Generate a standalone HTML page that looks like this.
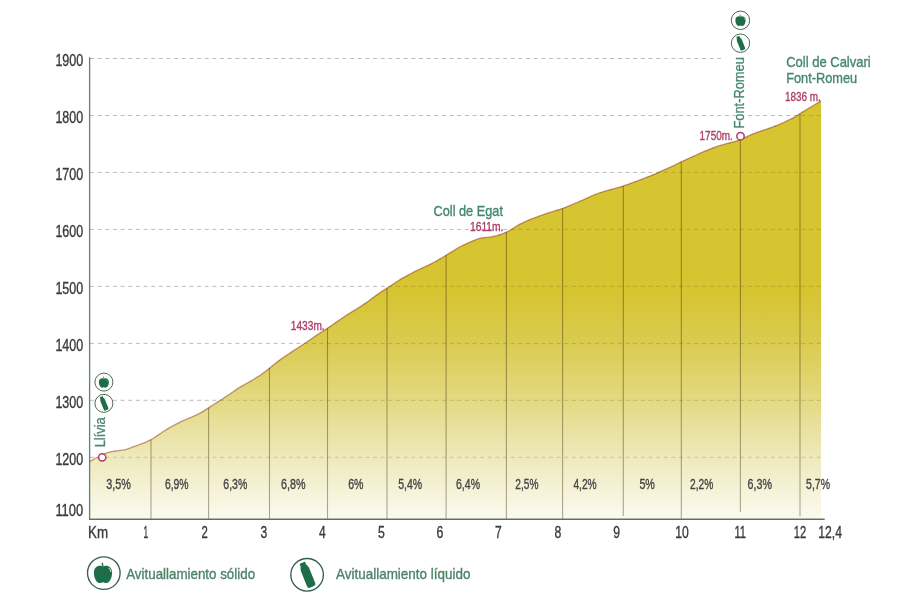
<!DOCTYPE html><html><head><meta charset="utf-8"><style>html,body{margin:0;padding:0;background:#fff;width:900px;height:600px;overflow:hidden}svg{display:block;will-change:transform;filter:blur(0.3px)}</style></head><body><svg width="900" height="600" viewBox="0 0 900 600">
<defs><linearGradient id="g" gradientUnits="userSpaceOnUse" x1="0" y1="290" x2="0" y2="522"><stop offset="0" stop-color="#d6c430"/><stop offset="0.23" stop-color="#dacb50"/><stop offset="0.47" stop-color="#e3d980"/><stop offset="0.72" stop-color="#eee9bc"/><stop offset="1" stop-color="#fcfbf2"/></linearGradient></defs>
<rect width="900" height="600" fill="#fff"/>
<line x1="90" y1="58.5" x2="721" y2="58.5" stroke="#bcbcbc" stroke-width="1" stroke-dasharray="4 3.65"/>
<line x1="90" y1="115.5" x2="821" y2="115.5" stroke="#bcbcbc" stroke-width="1" stroke-dasharray="4 3.65"/>
<line x1="90" y1="172.4" x2="821" y2="172.4" stroke="#bcbcbc" stroke-width="1" stroke-dasharray="4 3.65"/>
<line x1="90" y1="229.4" x2="821" y2="229.4" stroke="#bcbcbc" stroke-width="1" stroke-dasharray="4 3.65"/>
<line x1="90" y1="286.4" x2="821" y2="286.4" stroke="#bcbcbc" stroke-width="1" stroke-dasharray="4 3.65"/>
<line x1="90" y1="343.4" x2="821" y2="343.4" stroke="#bcbcbc" stroke-width="1" stroke-dasharray="4 3.65"/>
<line x1="90" y1="400.3" x2="821" y2="400.3" stroke="#bcbcbc" stroke-width="1" stroke-dasharray="4 3.65"/>
<line x1="90" y1="457.3" x2="821" y2="457.3" stroke="#bcbcbc" stroke-width="1" stroke-dasharray="4 3.65"/>
<path d="M89.6,461.8 C90.10,461.48 91.60,460.46 92.6,459.87 C93.60,459.28 94.60,458.73 95.6,458.24 C96.60,457.75 97.60,457.36 98.6,456.91 C99.60,456.46 100.60,456.02 101.6,455.53 C102.60,455.04 103.60,454.45 104.6,453.97 C105.60,453.49 106.60,453.02 107.6,452.67 C108.60,452.32 109.60,452.08 110.6,451.85 C111.60,451.62 112.60,451.47 113.6,451.31 C114.60,451.15 115.60,451.03 116.6,450.9 C117.60,450.77 118.60,450.66 119.6,450.54 C120.60,450.42 121.60,450.35 122.6,450.19 C123.60,450.03 124.60,449.85 125.6,449.59 C126.60,449.32 127.60,448.96 128.6,448.6 C129.60,448.25 130.60,447.83 131.6,447.46 C132.60,447.08 133.60,446.72 134.6,446.35 C135.60,445.99 136.60,445.63 137.6,445.27 C138.60,444.91 139.60,444.55 140.6,444.19 C141.60,443.83 142.60,443.48 143.6,443.1 C144.60,442.72 145.60,442.34 146.6,441.9 C147.60,441.46 148.60,440.96 149.6,440.44 C150.60,439.92 151.60,439.34 152.6,438.75 C153.60,438.16 154.60,437.53 155.6,436.88 C156.60,436.23 157.60,435.55 158.6,434.86 C159.60,434.17 160.60,433.42 161.6,432.73 C162.60,432.04 163.60,431.35 164.6,430.71 C165.60,430.07 166.60,429.49 167.6,428.9 C168.60,428.31 169.60,427.75 170.6,427.19 C171.60,426.63 172.60,426.07 173.6,425.52 C174.60,424.97 175.60,424.41 176.6,423.88 C177.60,423.35 178.60,422.82 179.6,422.33 C180.60,421.84 181.60,421.38 182.6,420.93 C183.60,420.48 184.60,420.07 185.6,419.65 C186.60,419.22 187.60,418.80 188.6,418.38 C189.60,417.96 190.60,417.54 191.6,417.11 C192.60,416.68 193.60,416.26 194.6,415.82 C195.60,415.38 196.60,414.96 197.6,414.48 C198.60,414.00 199.60,413.49 200.6,412.92 C201.60,412.35 202.60,411.71 203.6,411.07 C204.60,410.43 205.60,409.74 206.6,409.08 C207.60,408.42 208.60,407.77 209.6,407.12 C210.60,406.47 211.60,405.84 212.6,405.2 C213.60,404.56 214.60,403.93 215.6,403.29 C216.60,402.65 217.60,402.02 218.6,401.38 C219.60,400.74 220.60,400.09 221.6,399.45 C222.60,398.81 223.60,398.16 224.6,397.51 C225.60,396.86 226.60,396.21 227.6,395.55 C228.60,394.89 229.60,394.22 230.6,393.54 C231.60,392.86 232.60,392.17 233.6,391.48 C234.60,390.79 235.60,390.07 236.6,389.39 C237.60,388.71 238.60,388.03 239.6,387.4 C240.60,386.77 241.60,386.18 242.6,385.6 C243.60,385.02 244.60,384.48 245.6,383.92 C246.60,383.36 247.60,382.82 248.6,382.25 C249.60,381.68 250.60,381.10 251.6,380.52 C252.60,379.94 253.60,379.34 254.6,378.74 C255.60,378.14 256.60,377.54 257.6,376.91 C258.60,376.28 259.60,375.63 260.6,374.94 C261.60,374.25 262.60,373.52 263.6,372.78 C264.60,372.04 265.60,371.28 266.6,370.51 C267.60,369.74 268.60,368.94 269.6,368.13 C270.60,367.31 271.60,366.45 272.6,365.62 C273.60,364.79 274.60,363.95 275.6,363.16 C276.60,362.37 277.60,361.61 278.6,360.87 C279.60,360.13 280.60,359.44 281.6,358.74 C282.60,358.04 283.60,357.35 284.6,356.67 C285.60,355.99 286.60,355.31 287.6,354.64 C288.60,353.97 289.60,353.29 290.6,352.63 C291.60,351.97 292.60,351.31 293.6,350.66 C294.60,350.01 295.60,349.36 296.6,348.71 C297.60,348.06 298.60,347.40 299.6,346.74 C300.60,346.08 301.60,345.42 302.6,344.75 C303.60,344.08 304.60,343.42 305.6,342.75 C306.60,342.08 307.60,341.40 308.6,340.73 C309.60,340.06 310.60,339.39 311.6,338.71 C312.60,338.03 313.60,337.35 314.6,336.67 C315.60,335.99 316.60,335.31 317.6,334.65 C318.60,333.98 319.60,333.32 320.6,332.68 C321.60,332.04 322.60,331.41 323.6,330.78 C324.60,330.14 325.60,329.52 326.6,328.87 C327.60,328.22 328.60,327.54 329.6,326.85 C330.60,326.16 331.60,325.44 332.6,324.74 C333.60,324.04 334.60,323.32 335.6,322.62 C336.60,321.92 337.60,321.21 338.6,320.52 C339.60,319.83 340.60,319.15 341.6,318.48 C342.60,317.81 343.60,317.16 344.6,316.51 C345.60,315.86 346.60,315.21 347.6,314.57 C348.60,313.93 349.60,313.30 350.6,312.68 C351.60,312.06 352.60,311.45 353.6,310.84 C354.60,310.23 355.60,309.64 356.6,309.03 C357.60,308.42 358.60,307.81 359.6,307.16 C360.60,306.52 361.60,305.84 362.6,305.16 C363.60,304.48 364.60,303.78 365.6,303.08 C366.60,302.38 367.60,301.68 368.6,300.96 C369.60,300.24 370.60,299.51 371.6,298.78 C372.60,298.04 373.60,297.29 374.6,296.55 C375.60,295.81 376.60,295.05 377.6,294.33 C378.60,293.61 379.60,292.90 380.6,292.23 C381.60,291.56 382.60,290.93 383.6,290.29 C384.60,289.65 385.60,289.03 386.6,288.39 C387.60,287.75 388.60,287.11 389.6,286.45 C390.60,285.79 391.60,285.13 392.6,284.46 C393.60,283.79 394.60,283.11 395.6,282.45 C396.60,281.79 397.60,281.12 398.6,280.49 C399.60,279.86 400.60,279.26 401.6,278.67 C402.60,278.08 403.60,277.53 404.6,276.97 C405.60,276.41 406.60,275.87 407.6,275.33 C408.60,274.79 409.60,274.26 410.6,273.74 C411.60,273.22 412.60,272.70 413.6,272.2 C414.60,271.69 415.60,271.20 416.6,270.71 C417.60,270.22 418.60,269.72 419.6,269.24 C420.60,268.76 421.60,268.30 422.6,267.84 C423.60,267.38 424.60,266.94 425.6,266.48 C426.60,266.02 427.60,265.56 428.6,265.08 C429.60,264.60 430.60,264.10 431.6,263.58 C432.60,263.06 433.60,262.52 434.6,261.97 C435.60,261.42 436.60,260.87 437.6,260.3 C438.60,259.74 439.60,259.17 440.6,258.58 C441.60,257.99 442.60,257.38 443.6,256.77 C444.60,256.16 445.60,255.54 446.6,254.93 C447.60,254.32 448.60,253.70 449.6,253.09 C450.60,252.48 451.60,251.86 452.6,251.25 C453.60,250.64 454.60,250.01 455.6,249.41 C456.60,248.81 457.60,248.20 458.6,247.63 C459.60,247.06 460.60,246.52 461.6,246.01 C462.60,245.50 463.60,245.02 464.6,244.54 C465.60,244.06 466.60,243.59 467.6,243.14 C468.60,242.69 469.60,242.24 470.6,241.81 C471.60,241.38 472.60,240.97 473.6,240.57 C474.60,240.17 475.60,239.75 476.6,239.39 C477.60,239.03 478.60,238.66 479.6,238.4 C480.60,238.14 481.60,237.96 482.6,237.8 C483.60,237.64 484.60,237.56 485.6,237.46 C486.60,237.36 487.60,237.30 488.6,237.2 C489.60,237.10 490.60,237.01 491.6,236.85 C492.60,236.69 493.60,236.48 494.6,236.24 C495.60,236.00 496.60,235.72 497.6,235.43 C498.60,235.14 499.60,234.83 500.6,234.49 C501.60,234.15 502.60,233.78 503.6,233.38 C504.60,232.98 505.60,232.56 506.6,232.09 C507.60,231.62 508.60,231.10 509.6,230.53 C510.60,229.96 511.60,229.29 512.6,228.66 C513.60,228.03 514.60,227.34 515.6,226.72 C516.60,226.10 517.60,225.48 518.6,224.92 C519.60,224.36 520.60,223.84 521.6,223.34 C522.60,222.84 523.60,222.40 524.6,221.94 C525.60,221.48 526.60,221.03 527.6,220.6 C528.60,220.17 529.60,219.74 530.6,219.34 C531.60,218.94 532.60,218.57 533.6,218.19 C534.60,217.81 535.60,217.45 536.6,217.08 C537.60,216.71 538.60,216.34 539.6,215.98 C540.60,215.61 541.60,215.25 542.6,214.89 C543.60,214.53 544.60,214.18 545.6,213.84 C546.60,213.50 547.60,213.18 548.6,212.85 C549.60,212.52 550.60,212.21 551.6,211.89 C552.60,211.57 553.60,211.25 554.6,210.94 C555.60,210.62 556.60,210.31 557.6,210.0 C558.60,209.69 559.60,209.38 560.6,209.05 C561.60,208.72 562.60,208.38 563.6,208.01 C564.60,207.64 565.60,207.25 566.6,206.86 C567.60,206.47 568.60,206.06 569.6,205.66 C570.60,205.26 571.60,204.86 572.6,204.45 C573.60,204.04 574.60,203.62 575.6,203.19 C576.60,202.76 577.60,202.32 578.6,201.88 C579.60,201.44 580.60,200.98 581.6,200.53 C582.60,200.08 583.60,199.63 584.6,199.18 C585.60,198.73 586.60,198.28 587.6,197.83 C588.60,197.38 589.60,196.92 590.6,196.48 C591.60,196.04 592.60,195.60 593.6,195.18 C594.60,194.76 595.60,194.36 596.6,193.98 C597.60,193.60 598.60,193.24 599.6,192.89 C600.60,192.54 601.60,192.19 602.6,191.86 C603.60,191.53 604.60,191.21 605.6,190.92 C606.60,190.63 607.60,190.37 608.6,190.11 C609.60,189.85 610.60,189.61 611.6,189.35 C612.60,189.09 613.60,188.83 614.6,188.56 C615.60,188.29 616.60,188.00 617.6,187.71 C618.60,187.42 619.60,187.11 620.6,186.8 C621.60,186.49 622.60,186.17 623.6,185.84 C624.60,185.51 625.60,185.16 626.6,184.81 C627.60,184.46 628.60,184.10 629.6,183.74 C630.60,183.38 631.60,183.02 632.6,182.66 C633.60,182.30 634.60,181.93 635.6,181.56 C636.60,181.19 637.60,180.81 638.6,180.43 C639.60,180.05 640.60,179.67 641.6,179.29 C642.60,178.91 643.60,178.53 644.6,178.14 C645.60,177.75 646.60,177.36 647.6,176.96 C648.60,176.56 649.60,176.16 650.6,175.76 C651.60,175.36 652.60,174.96 653.6,174.54 C654.60,174.12 655.60,173.69 656.6,173.26 C657.60,172.82 658.60,172.38 659.6,171.93 C660.60,171.48 661.60,171.03 662.6,170.58 C663.60,170.13 664.60,169.68 665.6,169.23 C666.60,168.78 667.60,168.33 668.6,167.88 C669.60,167.43 670.60,166.98 671.6,166.52 C672.60,166.06 673.60,165.61 674.6,165.14 C675.60,164.67 676.60,164.18 677.6,163.69 C678.60,163.20 679.60,162.71 680.6,162.23 C681.60,161.75 682.60,161.27 683.6,160.8 C684.60,160.33 685.60,159.87 686.6,159.4 C687.60,158.94 688.60,158.47 689.6,158.01 C690.60,157.55 691.60,157.08 692.6,156.62 C693.60,156.16 694.60,155.70 695.6,155.24 C696.60,154.78 697.60,154.33 698.6,153.88 C699.60,153.43 700.60,152.98 701.6,152.54 C702.60,152.10 703.60,151.66 704.6,151.24 C705.60,150.82 706.60,150.42 707.6,150.03 C708.60,149.64 709.60,149.26 710.6,148.88 C711.60,148.50 712.60,148.12 713.6,147.76 C714.60,147.40 715.60,147.05 716.6,146.71 C717.60,146.37 718.60,146.05 719.6,145.73 C720.60,145.41 721.60,145.09 722.6,144.78 C723.60,144.47 724.60,144.18 725.6,143.9 C726.60,143.62 727.60,143.37 728.6,143.11 C729.60,142.85 730.60,142.60 731.6,142.34 C732.60,142.08 733.60,141.83 734.6,141.54 C735.60,141.25 736.60,140.96 737.6,140.62 C738.60,140.28 739.60,139.92 740.6,139.51 C741.60,139.10 742.60,138.63 743.6,138.18 C744.60,137.73 745.60,137.26 746.6,136.8 C747.60,136.34 748.60,135.88 749.6,135.43 C750.60,134.98 751.60,134.53 752.6,134.11 C753.60,133.69 754.60,133.27 755.6,132.89 C756.60,132.51 757.60,132.16 758.6,131.82 C759.60,131.47 760.60,131.15 761.6,130.82 C762.60,130.49 763.60,130.16 764.6,129.82 C765.60,129.48 766.60,129.14 767.6,128.79 C768.60,128.44 769.60,128.09 770.6,127.74 C771.60,127.38 772.60,127.03 773.6,126.66 C774.60,126.29 775.60,125.90 776.6,125.5 C777.60,125.10 778.60,124.68 779.6,124.26 C780.60,123.84 781.60,123.43 782.6,122.99 C783.60,122.55 784.60,122.11 785.6,121.64 C786.60,121.17 787.60,120.68 788.6,120.19 C789.60,119.70 790.60,119.20 791.6,118.68 C792.60,118.16 793.60,117.64 794.6,117.06 C795.60,116.48 796.60,115.85 797.6,115.22 C798.60,114.59 799.60,113.92 800.6,113.27 C801.60,112.62 802.60,111.97 803.6,111.34 C804.60,110.71 805.60,110.10 806.6,109.5 C807.60,108.90 808.60,108.32 809.6,107.73 C810.60,107.14 811.60,106.57 812.6,105.98 C813.60,105.39 814.60,104.79 815.6,104.18 C816.60,103.57 817.70,102.88 818.6,102.32 C819.50,101.76 820.60,101.05 821,100.8 L821,519.5 L89.6,519.5 Z" fill="url(#g)"/>
<clipPath id="cf"><path d="M89.6,461.8 C90.10,461.48 91.60,460.46 92.6,459.87 C93.60,459.28 94.60,458.73 95.6,458.24 C96.60,457.75 97.60,457.36 98.6,456.91 C99.60,456.46 100.60,456.02 101.6,455.53 C102.60,455.04 103.60,454.45 104.6,453.97 C105.60,453.49 106.60,453.02 107.6,452.67 C108.60,452.32 109.60,452.08 110.6,451.85 C111.60,451.62 112.60,451.47 113.6,451.31 C114.60,451.15 115.60,451.03 116.6,450.9 C117.60,450.77 118.60,450.66 119.6,450.54 C120.60,450.42 121.60,450.35 122.6,450.19 C123.60,450.03 124.60,449.85 125.6,449.59 C126.60,449.32 127.60,448.96 128.6,448.6 C129.60,448.25 130.60,447.83 131.6,447.46 C132.60,447.08 133.60,446.72 134.6,446.35 C135.60,445.99 136.60,445.63 137.6,445.27 C138.60,444.91 139.60,444.55 140.6,444.19 C141.60,443.83 142.60,443.48 143.6,443.1 C144.60,442.72 145.60,442.34 146.6,441.9 C147.60,441.46 148.60,440.96 149.6,440.44 C150.60,439.92 151.60,439.34 152.6,438.75 C153.60,438.16 154.60,437.53 155.6,436.88 C156.60,436.23 157.60,435.55 158.6,434.86 C159.60,434.17 160.60,433.42 161.6,432.73 C162.60,432.04 163.60,431.35 164.6,430.71 C165.60,430.07 166.60,429.49 167.6,428.9 C168.60,428.31 169.60,427.75 170.6,427.19 C171.60,426.63 172.60,426.07 173.6,425.52 C174.60,424.97 175.60,424.41 176.6,423.88 C177.60,423.35 178.60,422.82 179.6,422.33 C180.60,421.84 181.60,421.38 182.6,420.93 C183.60,420.48 184.60,420.07 185.6,419.65 C186.60,419.22 187.60,418.80 188.6,418.38 C189.60,417.96 190.60,417.54 191.6,417.11 C192.60,416.68 193.60,416.26 194.6,415.82 C195.60,415.38 196.60,414.96 197.6,414.48 C198.60,414.00 199.60,413.49 200.6,412.92 C201.60,412.35 202.60,411.71 203.6,411.07 C204.60,410.43 205.60,409.74 206.6,409.08 C207.60,408.42 208.60,407.77 209.6,407.12 C210.60,406.47 211.60,405.84 212.6,405.2 C213.60,404.56 214.60,403.93 215.6,403.29 C216.60,402.65 217.60,402.02 218.6,401.38 C219.60,400.74 220.60,400.09 221.6,399.45 C222.60,398.81 223.60,398.16 224.6,397.51 C225.60,396.86 226.60,396.21 227.6,395.55 C228.60,394.89 229.60,394.22 230.6,393.54 C231.60,392.86 232.60,392.17 233.6,391.48 C234.60,390.79 235.60,390.07 236.6,389.39 C237.60,388.71 238.60,388.03 239.6,387.4 C240.60,386.77 241.60,386.18 242.6,385.6 C243.60,385.02 244.60,384.48 245.6,383.92 C246.60,383.36 247.60,382.82 248.6,382.25 C249.60,381.68 250.60,381.10 251.6,380.52 C252.60,379.94 253.60,379.34 254.6,378.74 C255.60,378.14 256.60,377.54 257.6,376.91 C258.60,376.28 259.60,375.63 260.6,374.94 C261.60,374.25 262.60,373.52 263.6,372.78 C264.60,372.04 265.60,371.28 266.6,370.51 C267.60,369.74 268.60,368.94 269.6,368.13 C270.60,367.31 271.60,366.45 272.6,365.62 C273.60,364.79 274.60,363.95 275.6,363.16 C276.60,362.37 277.60,361.61 278.6,360.87 C279.60,360.13 280.60,359.44 281.6,358.74 C282.60,358.04 283.60,357.35 284.6,356.67 C285.60,355.99 286.60,355.31 287.6,354.64 C288.60,353.97 289.60,353.29 290.6,352.63 C291.60,351.97 292.60,351.31 293.6,350.66 C294.60,350.01 295.60,349.36 296.6,348.71 C297.60,348.06 298.60,347.40 299.6,346.74 C300.60,346.08 301.60,345.42 302.6,344.75 C303.60,344.08 304.60,343.42 305.6,342.75 C306.60,342.08 307.60,341.40 308.6,340.73 C309.60,340.06 310.60,339.39 311.6,338.71 C312.60,338.03 313.60,337.35 314.6,336.67 C315.60,335.99 316.60,335.31 317.6,334.65 C318.60,333.98 319.60,333.32 320.6,332.68 C321.60,332.04 322.60,331.41 323.6,330.78 C324.60,330.14 325.60,329.52 326.6,328.87 C327.60,328.22 328.60,327.54 329.6,326.85 C330.60,326.16 331.60,325.44 332.6,324.74 C333.60,324.04 334.60,323.32 335.6,322.62 C336.60,321.92 337.60,321.21 338.6,320.52 C339.60,319.83 340.60,319.15 341.6,318.48 C342.60,317.81 343.60,317.16 344.6,316.51 C345.60,315.86 346.60,315.21 347.6,314.57 C348.60,313.93 349.60,313.30 350.6,312.68 C351.60,312.06 352.60,311.45 353.6,310.84 C354.60,310.23 355.60,309.64 356.6,309.03 C357.60,308.42 358.60,307.81 359.6,307.16 C360.60,306.52 361.60,305.84 362.6,305.16 C363.60,304.48 364.60,303.78 365.6,303.08 C366.60,302.38 367.60,301.68 368.6,300.96 C369.60,300.24 370.60,299.51 371.6,298.78 C372.60,298.04 373.60,297.29 374.6,296.55 C375.60,295.81 376.60,295.05 377.6,294.33 C378.60,293.61 379.60,292.90 380.6,292.23 C381.60,291.56 382.60,290.93 383.6,290.29 C384.60,289.65 385.60,289.03 386.6,288.39 C387.60,287.75 388.60,287.11 389.6,286.45 C390.60,285.79 391.60,285.13 392.6,284.46 C393.60,283.79 394.60,283.11 395.6,282.45 C396.60,281.79 397.60,281.12 398.6,280.49 C399.60,279.86 400.60,279.26 401.6,278.67 C402.60,278.08 403.60,277.53 404.6,276.97 C405.60,276.41 406.60,275.87 407.6,275.33 C408.60,274.79 409.60,274.26 410.6,273.74 C411.60,273.22 412.60,272.70 413.6,272.2 C414.60,271.69 415.60,271.20 416.6,270.71 C417.60,270.22 418.60,269.72 419.6,269.24 C420.60,268.76 421.60,268.30 422.6,267.84 C423.60,267.38 424.60,266.94 425.6,266.48 C426.60,266.02 427.60,265.56 428.6,265.08 C429.60,264.60 430.60,264.10 431.6,263.58 C432.60,263.06 433.60,262.52 434.6,261.97 C435.60,261.42 436.60,260.87 437.6,260.3 C438.60,259.74 439.60,259.17 440.6,258.58 C441.60,257.99 442.60,257.38 443.6,256.77 C444.60,256.16 445.60,255.54 446.6,254.93 C447.60,254.32 448.60,253.70 449.6,253.09 C450.60,252.48 451.60,251.86 452.6,251.25 C453.60,250.64 454.60,250.01 455.6,249.41 C456.60,248.81 457.60,248.20 458.6,247.63 C459.60,247.06 460.60,246.52 461.6,246.01 C462.60,245.50 463.60,245.02 464.6,244.54 C465.60,244.06 466.60,243.59 467.6,243.14 C468.60,242.69 469.60,242.24 470.6,241.81 C471.60,241.38 472.60,240.97 473.6,240.57 C474.60,240.17 475.60,239.75 476.6,239.39 C477.60,239.03 478.60,238.66 479.6,238.4 C480.60,238.14 481.60,237.96 482.6,237.8 C483.60,237.64 484.60,237.56 485.6,237.46 C486.60,237.36 487.60,237.30 488.6,237.2 C489.60,237.10 490.60,237.01 491.6,236.85 C492.60,236.69 493.60,236.48 494.6,236.24 C495.60,236.00 496.60,235.72 497.6,235.43 C498.60,235.14 499.60,234.83 500.6,234.49 C501.60,234.15 502.60,233.78 503.6,233.38 C504.60,232.98 505.60,232.56 506.6,232.09 C507.60,231.62 508.60,231.10 509.6,230.53 C510.60,229.96 511.60,229.29 512.6,228.66 C513.60,228.03 514.60,227.34 515.6,226.72 C516.60,226.10 517.60,225.48 518.6,224.92 C519.60,224.36 520.60,223.84 521.6,223.34 C522.60,222.84 523.60,222.40 524.6,221.94 C525.60,221.48 526.60,221.03 527.6,220.6 C528.60,220.17 529.60,219.74 530.6,219.34 C531.60,218.94 532.60,218.57 533.6,218.19 C534.60,217.81 535.60,217.45 536.6,217.08 C537.60,216.71 538.60,216.34 539.6,215.98 C540.60,215.61 541.60,215.25 542.6,214.89 C543.60,214.53 544.60,214.18 545.6,213.84 C546.60,213.50 547.60,213.18 548.6,212.85 C549.60,212.52 550.60,212.21 551.6,211.89 C552.60,211.57 553.60,211.25 554.6,210.94 C555.60,210.62 556.60,210.31 557.6,210.0 C558.60,209.69 559.60,209.38 560.6,209.05 C561.60,208.72 562.60,208.38 563.6,208.01 C564.60,207.64 565.60,207.25 566.6,206.86 C567.60,206.47 568.60,206.06 569.6,205.66 C570.60,205.26 571.60,204.86 572.6,204.45 C573.60,204.04 574.60,203.62 575.6,203.19 C576.60,202.76 577.60,202.32 578.6,201.88 C579.60,201.44 580.60,200.98 581.6,200.53 C582.60,200.08 583.60,199.63 584.6,199.18 C585.60,198.73 586.60,198.28 587.6,197.83 C588.60,197.38 589.60,196.92 590.6,196.48 C591.60,196.04 592.60,195.60 593.6,195.18 C594.60,194.76 595.60,194.36 596.6,193.98 C597.60,193.60 598.60,193.24 599.6,192.89 C600.60,192.54 601.60,192.19 602.6,191.86 C603.60,191.53 604.60,191.21 605.6,190.92 C606.60,190.63 607.60,190.37 608.6,190.11 C609.60,189.85 610.60,189.61 611.6,189.35 C612.60,189.09 613.60,188.83 614.6,188.56 C615.60,188.29 616.60,188.00 617.6,187.71 C618.60,187.42 619.60,187.11 620.6,186.8 C621.60,186.49 622.60,186.17 623.6,185.84 C624.60,185.51 625.60,185.16 626.6,184.81 C627.60,184.46 628.60,184.10 629.6,183.74 C630.60,183.38 631.60,183.02 632.6,182.66 C633.60,182.30 634.60,181.93 635.6,181.56 C636.60,181.19 637.60,180.81 638.6,180.43 C639.60,180.05 640.60,179.67 641.6,179.29 C642.60,178.91 643.60,178.53 644.6,178.14 C645.60,177.75 646.60,177.36 647.6,176.96 C648.60,176.56 649.60,176.16 650.6,175.76 C651.60,175.36 652.60,174.96 653.6,174.54 C654.60,174.12 655.60,173.69 656.6,173.26 C657.60,172.82 658.60,172.38 659.6,171.93 C660.60,171.48 661.60,171.03 662.6,170.58 C663.60,170.13 664.60,169.68 665.6,169.23 C666.60,168.78 667.60,168.33 668.6,167.88 C669.60,167.43 670.60,166.98 671.6,166.52 C672.60,166.06 673.60,165.61 674.6,165.14 C675.60,164.67 676.60,164.18 677.6,163.69 C678.60,163.20 679.60,162.71 680.6,162.23 C681.60,161.75 682.60,161.27 683.6,160.8 C684.60,160.33 685.60,159.87 686.6,159.4 C687.60,158.94 688.60,158.47 689.6,158.01 C690.60,157.55 691.60,157.08 692.6,156.62 C693.60,156.16 694.60,155.70 695.6,155.24 C696.60,154.78 697.60,154.33 698.6,153.88 C699.60,153.43 700.60,152.98 701.6,152.54 C702.60,152.10 703.60,151.66 704.6,151.24 C705.60,150.82 706.60,150.42 707.6,150.03 C708.60,149.64 709.60,149.26 710.6,148.88 C711.60,148.50 712.60,148.12 713.6,147.76 C714.60,147.40 715.60,147.05 716.6,146.71 C717.60,146.37 718.60,146.05 719.6,145.73 C720.60,145.41 721.60,145.09 722.6,144.78 C723.60,144.47 724.60,144.18 725.6,143.9 C726.60,143.62 727.60,143.37 728.6,143.11 C729.60,142.85 730.60,142.60 731.6,142.34 C732.60,142.08 733.60,141.83 734.6,141.54 C735.60,141.25 736.60,140.96 737.6,140.62 C738.60,140.28 739.60,139.92 740.6,139.51 C741.60,139.10 742.60,138.63 743.6,138.18 C744.60,137.73 745.60,137.26 746.6,136.8 C747.60,136.34 748.60,135.88 749.6,135.43 C750.60,134.98 751.60,134.53 752.6,134.11 C753.60,133.69 754.60,133.27 755.6,132.89 C756.60,132.51 757.60,132.16 758.6,131.82 C759.60,131.47 760.60,131.15 761.6,130.82 C762.60,130.49 763.60,130.16 764.6,129.82 C765.60,129.48 766.60,129.14 767.6,128.79 C768.60,128.44 769.60,128.09 770.6,127.74 C771.60,127.38 772.60,127.03 773.6,126.66 C774.60,126.29 775.60,125.90 776.6,125.5 C777.60,125.10 778.60,124.68 779.6,124.26 C780.60,123.84 781.60,123.43 782.6,122.99 C783.60,122.55 784.60,122.11 785.6,121.64 C786.60,121.17 787.60,120.68 788.6,120.19 C789.60,119.70 790.60,119.20 791.6,118.68 C792.60,118.16 793.60,117.64 794.6,117.06 C795.60,116.48 796.60,115.85 797.6,115.22 C798.60,114.59 799.60,113.92 800.6,113.27 C801.60,112.62 802.60,111.97 803.6,111.34 C804.60,110.71 805.60,110.10 806.6,109.5 C807.60,108.90 808.60,108.32 809.6,107.73 C810.60,107.14 811.60,106.57 812.6,105.98 C813.60,105.39 814.60,104.79 815.6,104.18 C816.60,103.57 817.70,102.88 818.6,102.32 C819.50,101.76 820.60,101.05 821,100.8 L821,519.5 L89.6,519.5 Z"/></clipPath>
<g clip-path="url(#cf)" style="mix-blend-mode:multiply">
<line x1="90" y1="58.5" x2="821" y2="58.5" stroke="#dcd8cc" stroke-width="1" stroke-dasharray="4 3.65"/>
<line x1="90" y1="115.5" x2="821" y2="115.5" stroke="#dcd8cc" stroke-width="1" stroke-dasharray="4 3.65"/>
<line x1="90" y1="172.4" x2="821" y2="172.4" stroke="#dcd8cc" stroke-width="1" stroke-dasharray="4 3.65"/>
<line x1="90" y1="229.4" x2="821" y2="229.4" stroke="#dcd8cc" stroke-width="1" stroke-dasharray="4 3.65"/>
<line x1="90" y1="286.4" x2="821" y2="286.4" stroke="#dcd8cc" stroke-width="1" stroke-dasharray="4 3.65"/>
<line x1="90" y1="343.4" x2="821" y2="343.4" stroke="#dcd8cc" stroke-width="1" stroke-dasharray="4 3.65"/>
<line x1="90" y1="400.3" x2="821" y2="400.3" stroke="#dcd8cc" stroke-width="1" stroke-dasharray="4 3.65"/>
<line x1="90" y1="457.3" x2="821" y2="457.3" stroke="#dcd8cc" stroke-width="1" stroke-dasharray="4 3.65"/>
</g>
<line x1="151" y1="439.7" x2="151" y2="519" stroke="#b0ab9c" stroke-width="1.1" style="mix-blend-mode:multiply"/>
<line x1="208.6" y1="407.8" x2="208.6" y2="519" stroke="#b0ab9c" stroke-width="1.1" style="mix-blend-mode:multiply"/>
<line x1="269.5" y1="368.2" x2="269.5" y2="519" stroke="#b0ab9c" stroke-width="1.1" style="mix-blend-mode:multiply"/>
<line x1="327.5" y1="328.3" x2="327.5" y2="519" stroke="#b0ab9c" stroke-width="1.1" style="mix-blend-mode:multiply"/>
<line x1="387" y1="288.1" x2="387" y2="519" stroke="#b0ab9c" stroke-width="1.1" style="mix-blend-mode:multiply"/>
<line x1="446.1" y1="255.2" x2="446.1" y2="519" stroke="#b0ab9c" stroke-width="1.1" style="mix-blend-mode:multiply"/>
<line x1="506.4" y1="232.2" x2="506.4" y2="519" stroke="#b0ab9c" stroke-width="1.1" style="mix-blend-mode:multiply"/>
<line x1="562.6" y1="208.4" x2="562.6" y2="519" stroke="#b0ab9c" stroke-width="1.1" style="mix-blend-mode:multiply"/>
<line x1="623.3" y1="185.9" x2="623.3" y2="516" stroke="#b0ab9c" stroke-width="1.1" style="mix-blend-mode:multiply"/>
<line x1="681.3" y1="161.9" x2="681.3" y2="519" stroke="#b0ab9c" stroke-width="1.1" style="mix-blend-mode:multiply"/>
<line x1="740.4" y1="139.6" x2="740.4" y2="512" stroke="#b0ab9c" stroke-width="1.1" style="mix-blend-mode:multiply"/>
<line x1="800" y1="113.7" x2="800" y2="516.5" stroke="#b0ab9c" stroke-width="1.1" style="mix-blend-mode:multiply"/>
<path d="M89.6,461.8 C90.10,461.48 91.60,460.46 92.6,459.87 C93.60,459.28 94.60,458.73 95.6,458.24 C96.60,457.75 97.60,457.36 98.6,456.91 C99.60,456.46 100.60,456.02 101.6,455.53 C102.60,455.04 103.60,454.45 104.6,453.97 C105.60,453.49 106.60,453.02 107.6,452.67 C108.60,452.32 109.60,452.08 110.6,451.85 C111.60,451.62 112.60,451.47 113.6,451.31 C114.60,451.15 115.60,451.03 116.6,450.9 C117.60,450.77 118.60,450.66 119.6,450.54 C120.60,450.42 121.60,450.35 122.6,450.19 C123.60,450.03 124.60,449.85 125.6,449.59 C126.60,449.32 127.60,448.96 128.6,448.6 C129.60,448.25 130.60,447.83 131.6,447.46 C132.60,447.08 133.60,446.72 134.6,446.35 C135.60,445.99 136.60,445.63 137.6,445.27 C138.60,444.91 139.60,444.55 140.6,444.19 C141.60,443.83 142.60,443.48 143.6,443.1 C144.60,442.72 145.60,442.34 146.6,441.9 C147.60,441.46 148.60,440.96 149.6,440.44 C150.60,439.92 151.60,439.34 152.6,438.75 C153.60,438.16 154.60,437.53 155.6,436.88 C156.60,436.23 157.60,435.55 158.6,434.86 C159.60,434.17 160.60,433.42 161.6,432.73 C162.60,432.04 163.60,431.35 164.6,430.71 C165.60,430.07 166.60,429.49 167.6,428.9 C168.60,428.31 169.60,427.75 170.6,427.19 C171.60,426.63 172.60,426.07 173.6,425.52 C174.60,424.97 175.60,424.41 176.6,423.88 C177.60,423.35 178.60,422.82 179.6,422.33 C180.60,421.84 181.60,421.38 182.6,420.93 C183.60,420.48 184.60,420.07 185.6,419.65 C186.60,419.22 187.60,418.80 188.6,418.38 C189.60,417.96 190.60,417.54 191.6,417.11 C192.60,416.68 193.60,416.26 194.6,415.82 C195.60,415.38 196.60,414.96 197.6,414.48 C198.60,414.00 199.60,413.49 200.6,412.92 C201.60,412.35 202.60,411.71 203.6,411.07 C204.60,410.43 205.60,409.74 206.6,409.08 C207.60,408.42 208.60,407.77 209.6,407.12 C210.60,406.47 211.60,405.84 212.6,405.2 C213.60,404.56 214.60,403.93 215.6,403.29 C216.60,402.65 217.60,402.02 218.6,401.38 C219.60,400.74 220.60,400.09 221.6,399.45 C222.60,398.81 223.60,398.16 224.6,397.51 C225.60,396.86 226.60,396.21 227.6,395.55 C228.60,394.89 229.60,394.22 230.6,393.54 C231.60,392.86 232.60,392.17 233.6,391.48 C234.60,390.79 235.60,390.07 236.6,389.39 C237.60,388.71 238.60,388.03 239.6,387.4 C240.60,386.77 241.60,386.18 242.6,385.6 C243.60,385.02 244.60,384.48 245.6,383.92 C246.60,383.36 247.60,382.82 248.6,382.25 C249.60,381.68 250.60,381.10 251.6,380.52 C252.60,379.94 253.60,379.34 254.6,378.74 C255.60,378.14 256.60,377.54 257.6,376.91 C258.60,376.28 259.60,375.63 260.6,374.94 C261.60,374.25 262.60,373.52 263.6,372.78 C264.60,372.04 265.60,371.28 266.6,370.51 C267.60,369.74 268.60,368.94 269.6,368.13 C270.60,367.31 271.60,366.45 272.6,365.62 C273.60,364.79 274.60,363.95 275.6,363.16 C276.60,362.37 277.60,361.61 278.6,360.87 C279.60,360.13 280.60,359.44 281.6,358.74 C282.60,358.04 283.60,357.35 284.6,356.67 C285.60,355.99 286.60,355.31 287.6,354.64 C288.60,353.97 289.60,353.29 290.6,352.63 C291.60,351.97 292.60,351.31 293.6,350.66 C294.60,350.01 295.60,349.36 296.6,348.71 C297.60,348.06 298.60,347.40 299.6,346.74 C300.60,346.08 301.60,345.42 302.6,344.75 C303.60,344.08 304.60,343.42 305.6,342.75 C306.60,342.08 307.60,341.40 308.6,340.73 C309.60,340.06 310.60,339.39 311.6,338.71 C312.60,338.03 313.60,337.35 314.6,336.67 C315.60,335.99 316.60,335.31 317.6,334.65 C318.60,333.98 319.60,333.32 320.6,332.68 C321.60,332.04 322.60,331.41 323.6,330.78 C324.60,330.14 325.60,329.52 326.6,328.87 C327.60,328.22 328.60,327.54 329.6,326.85 C330.60,326.16 331.60,325.44 332.6,324.74 C333.60,324.04 334.60,323.32 335.6,322.62 C336.60,321.92 337.60,321.21 338.6,320.52 C339.60,319.83 340.60,319.15 341.6,318.48 C342.60,317.81 343.60,317.16 344.6,316.51 C345.60,315.86 346.60,315.21 347.6,314.57 C348.60,313.93 349.60,313.30 350.6,312.68 C351.60,312.06 352.60,311.45 353.6,310.84 C354.60,310.23 355.60,309.64 356.6,309.03 C357.60,308.42 358.60,307.81 359.6,307.16 C360.60,306.52 361.60,305.84 362.6,305.16 C363.60,304.48 364.60,303.78 365.6,303.08 C366.60,302.38 367.60,301.68 368.6,300.96 C369.60,300.24 370.60,299.51 371.6,298.78 C372.60,298.04 373.60,297.29 374.6,296.55 C375.60,295.81 376.60,295.05 377.6,294.33 C378.60,293.61 379.60,292.90 380.6,292.23 C381.60,291.56 382.60,290.93 383.6,290.29 C384.60,289.65 385.60,289.03 386.6,288.39 C387.60,287.75 388.60,287.11 389.6,286.45 C390.60,285.79 391.60,285.13 392.6,284.46 C393.60,283.79 394.60,283.11 395.6,282.45 C396.60,281.79 397.60,281.12 398.6,280.49 C399.60,279.86 400.60,279.26 401.6,278.67 C402.60,278.08 403.60,277.53 404.6,276.97 C405.60,276.41 406.60,275.87 407.6,275.33 C408.60,274.79 409.60,274.26 410.6,273.74 C411.60,273.22 412.60,272.70 413.6,272.2 C414.60,271.69 415.60,271.20 416.6,270.71 C417.60,270.22 418.60,269.72 419.6,269.24 C420.60,268.76 421.60,268.30 422.6,267.84 C423.60,267.38 424.60,266.94 425.6,266.48 C426.60,266.02 427.60,265.56 428.6,265.08 C429.60,264.60 430.60,264.10 431.6,263.58 C432.60,263.06 433.60,262.52 434.6,261.97 C435.60,261.42 436.60,260.87 437.6,260.3 C438.60,259.74 439.60,259.17 440.6,258.58 C441.60,257.99 442.60,257.38 443.6,256.77 C444.60,256.16 445.60,255.54 446.6,254.93 C447.60,254.32 448.60,253.70 449.6,253.09 C450.60,252.48 451.60,251.86 452.6,251.25 C453.60,250.64 454.60,250.01 455.6,249.41 C456.60,248.81 457.60,248.20 458.6,247.63 C459.60,247.06 460.60,246.52 461.6,246.01 C462.60,245.50 463.60,245.02 464.6,244.54 C465.60,244.06 466.60,243.59 467.6,243.14 C468.60,242.69 469.60,242.24 470.6,241.81 C471.60,241.38 472.60,240.97 473.6,240.57 C474.60,240.17 475.60,239.75 476.6,239.39 C477.60,239.03 478.60,238.66 479.6,238.4 C480.60,238.14 481.60,237.96 482.6,237.8 C483.60,237.64 484.60,237.56 485.6,237.46 C486.60,237.36 487.60,237.30 488.6,237.2 C489.60,237.10 490.60,237.01 491.6,236.85 C492.60,236.69 493.60,236.48 494.6,236.24 C495.60,236.00 496.60,235.72 497.6,235.43 C498.60,235.14 499.60,234.83 500.6,234.49 C501.60,234.15 502.60,233.78 503.6,233.38 C504.60,232.98 505.60,232.56 506.6,232.09 C507.60,231.62 508.60,231.10 509.6,230.53 C510.60,229.96 511.60,229.29 512.6,228.66 C513.60,228.03 514.60,227.34 515.6,226.72 C516.60,226.10 517.60,225.48 518.6,224.92 C519.60,224.36 520.60,223.84 521.6,223.34 C522.60,222.84 523.60,222.40 524.6,221.94 C525.60,221.48 526.60,221.03 527.6,220.6 C528.60,220.17 529.60,219.74 530.6,219.34 C531.60,218.94 532.60,218.57 533.6,218.19 C534.60,217.81 535.60,217.45 536.6,217.08 C537.60,216.71 538.60,216.34 539.6,215.98 C540.60,215.61 541.60,215.25 542.6,214.89 C543.60,214.53 544.60,214.18 545.6,213.84 C546.60,213.50 547.60,213.18 548.6,212.85 C549.60,212.52 550.60,212.21 551.6,211.89 C552.60,211.57 553.60,211.25 554.6,210.94 C555.60,210.62 556.60,210.31 557.6,210.0 C558.60,209.69 559.60,209.38 560.6,209.05 C561.60,208.72 562.60,208.38 563.6,208.01 C564.60,207.64 565.60,207.25 566.6,206.86 C567.60,206.47 568.60,206.06 569.6,205.66 C570.60,205.26 571.60,204.86 572.6,204.45 C573.60,204.04 574.60,203.62 575.6,203.19 C576.60,202.76 577.60,202.32 578.6,201.88 C579.60,201.44 580.60,200.98 581.6,200.53 C582.60,200.08 583.60,199.63 584.6,199.18 C585.60,198.73 586.60,198.28 587.6,197.83 C588.60,197.38 589.60,196.92 590.6,196.48 C591.60,196.04 592.60,195.60 593.6,195.18 C594.60,194.76 595.60,194.36 596.6,193.98 C597.60,193.60 598.60,193.24 599.6,192.89 C600.60,192.54 601.60,192.19 602.6,191.86 C603.60,191.53 604.60,191.21 605.6,190.92 C606.60,190.63 607.60,190.37 608.6,190.11 C609.60,189.85 610.60,189.61 611.6,189.35 C612.60,189.09 613.60,188.83 614.6,188.56 C615.60,188.29 616.60,188.00 617.6,187.71 C618.60,187.42 619.60,187.11 620.6,186.8 C621.60,186.49 622.60,186.17 623.6,185.84 C624.60,185.51 625.60,185.16 626.6,184.81 C627.60,184.46 628.60,184.10 629.6,183.74 C630.60,183.38 631.60,183.02 632.6,182.66 C633.60,182.30 634.60,181.93 635.6,181.56 C636.60,181.19 637.60,180.81 638.6,180.43 C639.60,180.05 640.60,179.67 641.6,179.29 C642.60,178.91 643.60,178.53 644.6,178.14 C645.60,177.75 646.60,177.36 647.6,176.96 C648.60,176.56 649.60,176.16 650.6,175.76 C651.60,175.36 652.60,174.96 653.6,174.54 C654.60,174.12 655.60,173.69 656.6,173.26 C657.60,172.82 658.60,172.38 659.6,171.93 C660.60,171.48 661.60,171.03 662.6,170.58 C663.60,170.13 664.60,169.68 665.6,169.23 C666.60,168.78 667.60,168.33 668.6,167.88 C669.60,167.43 670.60,166.98 671.6,166.52 C672.60,166.06 673.60,165.61 674.6,165.14 C675.60,164.67 676.60,164.18 677.6,163.69 C678.60,163.20 679.60,162.71 680.6,162.23 C681.60,161.75 682.60,161.27 683.6,160.8 C684.60,160.33 685.60,159.87 686.6,159.4 C687.60,158.94 688.60,158.47 689.6,158.01 C690.60,157.55 691.60,157.08 692.6,156.62 C693.60,156.16 694.60,155.70 695.6,155.24 C696.60,154.78 697.60,154.33 698.6,153.88 C699.60,153.43 700.60,152.98 701.6,152.54 C702.60,152.10 703.60,151.66 704.6,151.24 C705.60,150.82 706.60,150.42 707.6,150.03 C708.60,149.64 709.60,149.26 710.6,148.88 C711.60,148.50 712.60,148.12 713.6,147.76 C714.60,147.40 715.60,147.05 716.6,146.71 C717.60,146.37 718.60,146.05 719.6,145.73 C720.60,145.41 721.60,145.09 722.6,144.78 C723.60,144.47 724.60,144.18 725.6,143.9 C726.60,143.62 727.60,143.37 728.6,143.11 C729.60,142.85 730.60,142.60 731.6,142.34 C732.60,142.08 733.60,141.83 734.6,141.54 C735.60,141.25 736.60,140.96 737.6,140.62 C738.60,140.28 739.60,139.92 740.6,139.51 C741.60,139.10 742.60,138.63 743.6,138.18 C744.60,137.73 745.60,137.26 746.6,136.8 C747.60,136.34 748.60,135.88 749.6,135.43 C750.60,134.98 751.60,134.53 752.6,134.11 C753.60,133.69 754.60,133.27 755.6,132.89 C756.60,132.51 757.60,132.16 758.6,131.82 C759.60,131.47 760.60,131.15 761.6,130.82 C762.60,130.49 763.60,130.16 764.6,129.82 C765.60,129.48 766.60,129.14 767.6,128.79 C768.60,128.44 769.60,128.09 770.6,127.74 C771.60,127.38 772.60,127.03 773.6,126.66 C774.60,126.29 775.60,125.90 776.6,125.5 C777.60,125.10 778.60,124.68 779.6,124.26 C780.60,123.84 781.60,123.43 782.6,122.99 C783.60,122.55 784.60,122.11 785.6,121.64 C786.60,121.17 787.60,120.68 788.6,120.19 C789.60,119.70 790.60,119.20 791.6,118.68 C792.60,118.16 793.60,117.64 794.6,117.06 C795.60,116.48 796.60,115.85 797.6,115.22 C798.60,114.59 799.60,113.92 800.6,113.27 C801.60,112.62 802.60,111.97 803.6,111.34 C804.60,110.71 805.60,110.10 806.6,109.5 C807.60,108.90 808.60,108.32 809.6,107.73 C810.60,107.14 811.60,106.57 812.6,105.98 C813.60,105.39 814.60,104.79 815.6,104.18 C816.60,103.57 817.70,102.88 818.6,102.32 C819.50,101.76 820.60,101.05 821,100.8" fill="none" stroke="#cc9c86" stroke-width="1.35" stroke-linejoin="round" style="mix-blend-mode:multiply"/>
<line x1="89.6" y1="57.3" x2="89.6" y2="519.8" stroke="#5a8576" stroke-width="1.3"/>
<line x1="89" y1="519.3" x2="824.7" y2="519.3" stroke="#5f7267" stroke-width="1.5"/>
<text x="55.4" y="66.2" font-family='"Liberation Sans", sans-serif' font-size="15.8" fill="#3a3a3a" stroke="#3a3a3a" stroke-width="0.35" text-anchor="start" textLength="27.8" lengthAdjust="spacingAndGlyphs" >1900</text>
<text x="55.4" y="123.2" font-family='"Liberation Sans", sans-serif' font-size="15.8" fill="#3a3a3a" stroke="#3a3a3a" stroke-width="0.35" text-anchor="start" textLength="27.8" lengthAdjust="spacingAndGlyphs" >1800</text>
<text x="55.4" y="180.1" font-family='"Liberation Sans", sans-serif' font-size="15.8" fill="#3a3a3a" stroke="#3a3a3a" stroke-width="0.35" text-anchor="start" textLength="27.8" lengthAdjust="spacingAndGlyphs" >1700</text>
<text x="55.4" y="237.1" font-family='"Liberation Sans", sans-serif' font-size="15.8" fill="#3a3a3a" stroke="#3a3a3a" stroke-width="0.35" text-anchor="start" textLength="27.8" lengthAdjust="spacingAndGlyphs" >1600</text>
<text x="55.4" y="294.1" font-family='"Liberation Sans", sans-serif' font-size="15.8" fill="#3a3a3a" stroke="#3a3a3a" stroke-width="0.35" text-anchor="start" textLength="27.8" lengthAdjust="spacingAndGlyphs" >1500</text>
<text x="55.4" y="351.1" font-family='"Liberation Sans", sans-serif' font-size="15.8" fill="#3a3a3a" stroke="#3a3a3a" stroke-width="0.35" text-anchor="start" textLength="27.8" lengthAdjust="spacingAndGlyphs" >1400</text>
<text x="55.4" y="408.0" font-family='"Liberation Sans", sans-serif' font-size="15.8" fill="#3a3a3a" stroke="#3a3a3a" stroke-width="0.35" text-anchor="start" textLength="27.8" lengthAdjust="spacingAndGlyphs" >1300</text>
<text x="55.4" y="465.0" font-family='"Liberation Sans", sans-serif' font-size="15.8" fill="#3a3a3a" stroke="#3a3a3a" stroke-width="0.35" text-anchor="start" textLength="27.8" lengthAdjust="spacingAndGlyphs" >1200</text>
<text x="55.4" y="516" font-family='"Liberation Sans", sans-serif' font-size="15.8" fill="#3a3a3a" stroke="#3a3a3a" stroke-width="0.35" text-anchor="start" textLength="27.8" lengthAdjust="spacingAndGlyphs" >1100</text>
<text x="88.1" y="537.8" font-family='"Liberation Sans", sans-serif' font-size="16" fill="#3a3a3a" stroke="#3a3a3a" stroke-width="0.35" text-anchor="start" textLength="20" lengthAdjust="spacingAndGlyphs" >Km</text>
<text x="143.6" y="537.8" font-family='"Liberation Sans", sans-serif' font-size="16" fill="#3a3a3a" stroke="#3a3a3a" stroke-width="0.35" text-anchor="start" textLength="4.6" lengthAdjust="spacingAndGlyphs" >1</text>
<text x="201.4" y="537.8" font-family='"Liberation Sans", sans-serif' font-size="16" fill="#3a3a3a" stroke="#3a3a3a" stroke-width="0.35" text-anchor="start" textLength="6.3" lengthAdjust="spacingAndGlyphs" >2</text>
<text x="260.6" y="537.8" font-family='"Liberation Sans", sans-serif' font-size="16" fill="#3a3a3a" stroke="#3a3a3a" stroke-width="0.35" text-anchor="start" textLength="6.7" lengthAdjust="spacingAndGlyphs" >3</text>
<text x="319" y="537.8" font-family='"Liberation Sans", sans-serif' font-size="16" fill="#3a3a3a" stroke="#3a3a3a" stroke-width="0.35" text-anchor="start" textLength="6.7" lengthAdjust="spacingAndGlyphs" >4</text>
<text x="378" y="537.8" font-family='"Liberation Sans", sans-serif' font-size="16" fill="#3a3a3a" stroke="#3a3a3a" stroke-width="0.35" text-anchor="start" textLength="6.8" lengthAdjust="spacingAndGlyphs" >5</text>
<text x="436.5" y="537.8" font-family='"Liberation Sans", sans-serif' font-size="16" fill="#3a3a3a" stroke="#3a3a3a" stroke-width="0.35" text-anchor="start" textLength="6.8" lengthAdjust="spacingAndGlyphs" >6</text>
<text x="495" y="537.8" font-family='"Liberation Sans", sans-serif' font-size="16" fill="#3a3a3a" stroke="#3a3a3a" stroke-width="0.35" text-anchor="start" textLength="6.7" lengthAdjust="spacingAndGlyphs" >7</text>
<text x="554.4" y="537.8" font-family='"Liberation Sans", sans-serif' font-size="16" fill="#3a3a3a" stroke="#3a3a3a" stroke-width="0.35" text-anchor="start" textLength="6.8" lengthAdjust="spacingAndGlyphs" >8</text>
<text x="613.3" y="537.8" font-family='"Liberation Sans", sans-serif' font-size="16" fill="#3a3a3a" stroke="#3a3a3a" stroke-width="0.35" text-anchor="start" textLength="6.8" lengthAdjust="spacingAndGlyphs" >9</text>
<text x="675.3" y="537.8" font-family='"Liberation Sans", sans-serif' font-size="16" fill="#3a3a3a" stroke="#3a3a3a" stroke-width="0.35" text-anchor="start" textLength="13.5" lengthAdjust="spacingAndGlyphs" >10</text>
<text x="734.5" y="537.8" font-family='"Liberation Sans", sans-serif' font-size="16" fill="#3a3a3a" stroke="#3a3a3a" stroke-width="0.35" text-anchor="start" textLength="11.5" lengthAdjust="spacingAndGlyphs" >11</text>
<text x="793.8" y="537.8" font-family='"Liberation Sans", sans-serif' font-size="16" fill="#3a3a3a" stroke="#3a3a3a" stroke-width="0.35" text-anchor="start" textLength="12.4" lengthAdjust="spacingAndGlyphs" >12</text>
<text x="818.3" y="537.8" font-family='"Liberation Sans", sans-serif' font-size="16" fill="#3a3a3a" stroke="#3a3a3a" stroke-width="0.35" text-anchor="start" textLength="23.7" lengthAdjust="spacingAndGlyphs" >12,4</text>
<text x="106.2" y="488.5" font-family='"Liberation Sans", sans-serif' font-size="14.5" fill="#444" stroke="#444" stroke-width="0.35" text-anchor="start" textLength="24.6" lengthAdjust="spacingAndGlyphs" >3,5%</text>
<text x="164.9" y="488.5" font-family='"Liberation Sans", sans-serif' font-size="14.5" fill="#444" stroke="#444" stroke-width="0.35" text-anchor="start" textLength="23.7" lengthAdjust="spacingAndGlyphs" >6,9%</text>
<text x="223.3" y="488.5" font-family='"Liberation Sans", sans-serif' font-size="14.5" fill="#444" stroke="#444" stroke-width="0.35" text-anchor="start" textLength="24" lengthAdjust="spacingAndGlyphs" >6,3%</text>
<text x="281.1" y="488.5" font-family='"Liberation Sans", sans-serif' font-size="14.5" fill="#444" stroke="#444" stroke-width="0.35" text-anchor="start" textLength="24.5" lengthAdjust="spacingAndGlyphs" >6,8%</text>
<text x="348.2" y="488.5" font-family='"Liberation Sans", sans-serif' font-size="14.5" fill="#444" stroke="#444" stroke-width="0.35" text-anchor="start" textLength="15.3" lengthAdjust="spacingAndGlyphs" >6%</text>
<text x="398.2" y="488.5" font-family='"Liberation Sans", sans-serif' font-size="14.5" fill="#444" stroke="#444" stroke-width="0.35" text-anchor="start" textLength="24" lengthAdjust="spacingAndGlyphs" >5,4%</text>
<text x="456.0" y="488.5" font-family='"Liberation Sans", sans-serif' font-size="14.5" fill="#444" stroke="#444" stroke-width="0.35" text-anchor="start" textLength="24" lengthAdjust="spacingAndGlyphs" >6,4%</text>
<text x="515.3" y="488.5" font-family='"Liberation Sans", sans-serif' font-size="14.5" fill="#444" stroke="#444" stroke-width="0.35" text-anchor="start" textLength="23.1" lengthAdjust="spacingAndGlyphs" >2,5%</text>
<text x="573.4" y="488.5" font-family='"Liberation Sans", sans-serif' font-size="14.5" fill="#444" stroke="#444" stroke-width="0.35" text-anchor="start" textLength="23.3" lengthAdjust="spacingAndGlyphs" >4,2%</text>
<text x="639.4" y="488.5" font-family='"Liberation Sans", sans-serif' font-size="14.5" fill="#444" stroke="#444" stroke-width="0.35" text-anchor="start" textLength="15.5" lengthAdjust="spacingAndGlyphs" >5%</text>
<text x="690.0999999999999" y="488.5" font-family='"Liberation Sans", sans-serif' font-size="14.5" fill="#444" stroke="#444" stroke-width="0.35" text-anchor="start" textLength="23.3" lengthAdjust="spacingAndGlyphs" >2,2%</text>
<text x="747.5999999999999" y="488.5" font-family='"Liberation Sans", sans-serif' font-size="14.5" fill="#444" stroke="#444" stroke-width="0.35" text-anchor="start" textLength="24.3" lengthAdjust="spacingAndGlyphs" >6,3%</text>
<text x="806.0999999999999" y="488.5" font-family='"Liberation Sans", sans-serif' font-size="14.5" fill="#444" stroke="#444" stroke-width="0.35" text-anchor="start" textLength="24" lengthAdjust="spacingAndGlyphs" >5,7%</text>
<text x="290.8" y="329.7" font-family='"Liberation Sans", sans-serif' font-size="12.5" fill="#ad3e66" stroke="#ad3e66" stroke-width="0.35" text-anchor="start" textLength="33.9" lengthAdjust="spacingAndGlyphs" >1433m.</text>
<text x="470" y="231.4" font-family='"Liberation Sans", sans-serif' font-size="12.5" fill="#ad3e66" stroke="#ad3e66" stroke-width="0.35" text-anchor="start" textLength="33.4" lengthAdjust="spacingAndGlyphs" >1611m.</text>
<text x="699.5" y="140.1" font-family='"Liberation Sans", sans-serif' font-size="12.5" fill="#ad3e66" stroke="#ad3e66" stroke-width="0.35" text-anchor="start" textLength="33.4" lengthAdjust="spacingAndGlyphs" >1750m.</text>
<text x="785" y="100.5" font-family='"Liberation Sans", sans-serif' font-size="12.5" fill="#ad3e66" stroke="#ad3e66" stroke-width="0.35" text-anchor="start" textLength="35.8" lengthAdjust="spacingAndGlyphs" >1836 m.</text>
<text x="433.5" y="215.8" font-family='"Liberation Sans", sans-serif' font-size="14.5" fill="#43866e" stroke="#43866e" stroke-width="0.35" text-anchor="start" textLength="69.5" lengthAdjust="spacingAndGlyphs" >Coll de Egat</text>
<text x="786.2" y="66.5" font-family='"Liberation Sans", sans-serif' font-size="14.5" fill="#43866e" stroke="#43866e" stroke-width="0.35" text-anchor="start" textLength="84.5" lengthAdjust="spacingAndGlyphs" >Coll de Calvari</text>
<text x="786.2" y="82.5" font-family='"Liberation Sans", sans-serif' font-size="14.5" fill="#43866e" stroke="#43866e" stroke-width="0.35" text-anchor="start" textLength="71" lengthAdjust="spacingAndGlyphs" >Font-Romeu</text>
<text transform="translate(105.2,447.3) rotate(-90)" font-family='"Liberation Sans", sans-serif' font-size="15.5" fill="#43866e" stroke="#43866e" stroke-width="0.3" textLength="30" lengthAdjust="spacingAndGlyphs">Llívia</text>
<text transform="translate(744.2,128.6) rotate(-90)" font-family='"Liberation Sans", sans-serif' font-size="15.5" fill="#43866e" stroke="#43866e" stroke-width="0.3" textLength="71.5" lengthAdjust="spacingAndGlyphs">Font-Romeu</text>
<circle cx="102.2" cy="457.3" r="3.6" fill="#fff" stroke="#ad3e66" stroke-width="1.5"/>
<circle cx="740.5" cy="136.2" r="3.7" fill="#fff" stroke="#ad3e66" stroke-width="1.5"/>
<circle cx="103.9" cy="382.1" r="9.0" fill="#fff" stroke="#4a6a5c" stroke-width="1.0"/>
<g transform="translate(103.9,382.40000000000003) scale(0.5558823529411765)"><path d="M0,-6.5 C-2,-8.5 -8.5,-8 -9,-1.5 C-9.3,4 -6.5,9.5 -3.5,9.5 C-2,9.5 -1,8.7 0,8.7 C1,8.7 2,9.5 3.5,9.5 C6.5,9.5 9.3,4 9,-1.5 C8.5,-8 2,-8.5 0,-6.5 Z" fill="#1d6e48"/><path d="M0,-6.5 L-0.8,-10.5" stroke="#1d6e48" stroke-width="1.4" fill="none"/><path d="M5.5,-5.5 C7,-4.5 7.8,-3 7.8,-1.5" stroke="#fff" stroke-width="1" fill="none" opacity="0.8"/></g>
<circle cx="103.9" cy="403.4" r="9.0" fill="#fff" stroke="#4a6a5c" stroke-width="1.0"/>
<g transform="translate(103.9,403.4) scale(0.5558823529411765) rotate(-22)"><path d="M-2.6,-12.8 L2.6,-12.8 L3.2,-11.4 L2.7,-10.3 L3.4,-9.1 L4.4,-6 L4.4,10.6 Q4.4,12.9 2.2,12.9 L-2.2,12.9 Q-4.4,12.9 -4.4,10.6 L-4.4,-6 L-3.4,-9.1 L-2.7,-10.3 L-3.2,-11.4 Z" fill="#1d6e48"/></g>
<circle cx="740.5" cy="20.3" r="9.2" fill="#fff" stroke="#4a6a5c" stroke-width="1.0"/>
<g transform="translate(740.5,20.6) scale(0.5682352941176471)"><path d="M0,-6.5 C-2,-8.5 -8.5,-8 -9,-1.5 C-9.3,4 -6.5,9.5 -3.5,9.5 C-2,9.5 -1,8.7 0,8.7 C1,8.7 2,9.5 3.5,9.5 C6.5,9.5 9.3,4 9,-1.5 C8.5,-8 2,-8.5 0,-6.5 Z" fill="#1d6e48"/><path d="M0,-6.5 L-0.8,-10.5" stroke="#1d6e48" stroke-width="1.4" fill="none"/><path d="M5.5,-5.5 C7,-4.5 7.8,-3 7.8,-1.5" stroke="#fff" stroke-width="1" fill="none" opacity="0.8"/></g>
<circle cx="740.5" cy="43.2" r="9.2" fill="#fff" stroke="#4a6a5c" stroke-width="1.0"/>
<g transform="translate(740.5,43.2) scale(0.5682352941176471) rotate(-22)"><path d="M-2.6,-12.8 L2.6,-12.8 L3.2,-11.4 L2.7,-10.3 L3.4,-9.1 L4.4,-6 L4.4,10.6 Q4.4,12.9 2.2,12.9 L-2.2,12.9 Q-4.4,12.9 -4.4,10.6 L-4.4,-6 L-3.4,-9.1 L-2.7,-10.3 L-3.2,-11.4 Z" fill="#1d6e48"/></g>
<circle cx="103.8" cy="573.1" r="16.3" fill="#fff" stroke="#34604e" stroke-width="1.35"/>
<g transform="translate(103.0,573.4) scale(1.006764705882353)"><path d="M0,-6.5 C-2,-8.5 -8.5,-8 -9,-1.5 C-9.3,4 -6.5,9.5 -3.5,9.5 C-2,9.5 -1,8.7 0,8.7 C1,8.7 2,9.5 3.5,9.5 C6.5,9.5 9.3,4 9,-1.5 C8.5,-8 2,-8.5 0,-6.5 Z" fill="#1d6e48"/><path d="M0,-6.5 L-0.8,-10.5" stroke="#1d6e48" stroke-width="1.4" fill="none"/><path d="M5.5,-5.5 C7,-4.5 7.8,-3 7.8,-1.5" stroke="#fff" stroke-width="1" fill="none" opacity="0.8"/></g>
<circle cx="307.1" cy="574.8" r="16.3" fill="#fff" stroke="#34604e" stroke-width="1.35"/>
<g transform="translate(307.1,574.8) scale(1.006764705882353) rotate(-22)"><path d="M-2.6,-12.8 L2.6,-12.8 L3.2,-11.4 L2.7,-10.3 L3.4,-9.1 L4.4,-6 L4.4,10.6 Q4.4,12.9 2.2,12.9 L-2.2,12.9 Q-4.4,12.9 -4.4,10.6 L-4.4,-6 L-3.4,-9.1 L-2.7,-10.3 L-3.2,-11.4 Z" fill="#1d6e48"/></g>
<text x="126.2" y="578.7" font-family='"Liberation Sans", sans-serif' font-size="15" fill="#4b8268" stroke="#4b8268" stroke-width="0.35" text-anchor="start" textLength="128.9" lengthAdjust="spacingAndGlyphs" >Avituallamiento sólido</text>
<text x="336" y="579.2" font-family='"Liberation Sans", sans-serif' font-size="15" fill="#4b8268" stroke="#4b8268" stroke-width="0.35" text-anchor="start" textLength="134.5" lengthAdjust="spacingAndGlyphs" >Avituallamiento líquido</text>
</svg></body></html>
